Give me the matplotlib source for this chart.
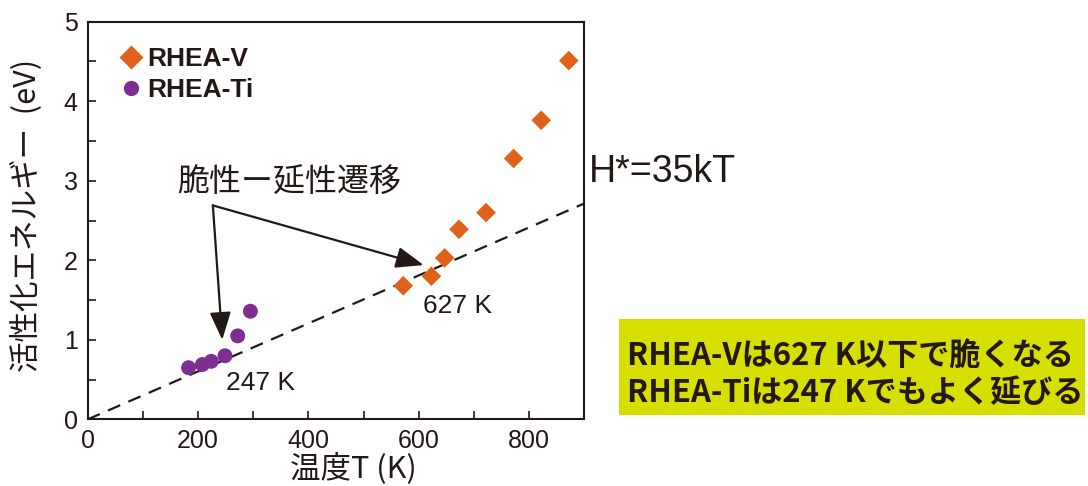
import matplotlib
matplotlib.use("Agg")
import matplotlib.pyplot as plt
from matplotlib.patches import Rectangle
from matplotlib.lines import Line2D

plt.rcParams['font.family'] = ['Liberation Sans', 'Noto Sans CJK JP', 'DejaVu Sans']

# data
t_v = [572, 623, 647, 673, 722, 772, 822, 872]
e_v = [1.68, 1.80, 2.03, 2.39, 2.60, 3.28, 3.76, 4.51]
t_ti = [183, 208, 224, 249, 272, 295]
e_ti = [0.65, 0.69, 0.73, 0.80, 1.05, 1.36]
k_b = 8.617e-5
h_factor = 35
t_line = [0, 900]

x_ticks = [0, 200, 400, 600, 800]
y_ticks = [0, 1, 2, 3, 4, 5]

orange = '#E0621A'
purple = '#7E2D90'
ink = '#231815'
cjk = ['Noto Sans CJK JP', 'Liberation Sans']

fig = plt.figure(figsize=(10.88, 4.86), dpi=100)
ax = fig.add_axes([0.0805, 0.137, 0.4565, 0.8185])

ax.plot(t_line, [h_factor * k_b * t for t in t_line], '--', color=ink, lw=1.6,
        dashes=(6, 4), zorder=1)
ax.scatter(t_v, e_v, marker='D', s=100, color=orange, edgecolors='none', zorder=3)
ax.scatter(t_ti, e_ti, marker='o', s=115, color=purple, edgecolors='none', zorder=3)

ax.set_xlim(0, 900)
ax.set_ylim(0, 5)
ax.set_xticks(x_ticks)
ax.set_xticks(range(100, 900, 200), minor=True)
ax.set_yticks(y_ticks)
ax.set_yticks([0.5, 1.5, 2.5, 3.5, 4.5], minor=True)
ax.tick_params(which='both', direction='in', length=6, width=1.2, labelsize=18,
               pad=7, colors=ink, top=False, right=False)
for s in ax.spines.values():
    s.set_linewidth(1.5)
    s.set_color(ink)

ax.set_xlabel('温度T (K)', family=cjk, fontsize=22, color=ink, labelpad=0)
ax.xaxis.set_label_coords(0.535, -0.085)
ax.set_ylabel('活性化エネルギー  (eV)', family=cjk, fontsize=22, color=ink)
ax.yaxis.set_label_coords(-0.09, 0.513)

handles = [Line2D([], [], ls='none', marker='D', ms=12, color=orange, mec='none'),
           Line2D([], [], ls='none', marker='o', ms=11, color=purple, mec='none')]
ax.legend(handles, ['RHEA-V', 'RHEA-Ti'], loc='upper left', bbox_to_anchor=(0.008, 0.995),
          frameon=False, handletextpad=0.0, handlelength=1.2, labelspacing=0.25,
          prop={'weight': 'bold', 'size': 19}, labelcolor=ink)

arrow = dict(arrowstyle='-|>,head_length=1.7,head_width=0.65', color=ink, lw=1.6,
             shrinkA=0, shrinkB=0)
ax.annotate('', xy=(244, 1.0), xytext=(227, 2.69), arrowprops=arrow)
ax.annotate('', xy=(609, 1.94), xytext=(227, 2.69), arrowprops=arrow)
ax.text(366, 2.99, '脆性ー延性遷移', family=cjk, fontsize=23, color=ink,
        ha='center', va='center')
ax.text(313, 0.46, '247 K', fontsize=19, color=ink, ha='center', va='center')
ax.text(671, 1.42, '627 K', fontsize=19, color=ink, ha='center', va='center')

fig.text(0.541, 0.626, 'H*=35kT', fontsize=27, color=ink, ha='left', va='baseline')

fig.patches.append(Rectangle((0.569, 0.146), 0.428, 0.198, transform=fig.transFigure,
                             facecolor='#D7DF00', edgecolor='none', zorder=0))
fig.text(0.576, 0.248, 'RHEA-Vは627 K以下で脆くなる', family=cjk, fontsize=22.4,
         weight='bold', color=ink, ha='left', va='baseline')
fig.text(0.576, 0.173, 'RHEA-Tiは247 Kでもよく延びる', family=cjk, fontsize=22.4,
         weight='bold', color=ink, ha='left', va='baseline')

fig.savefig('out.png', dpi=100)
